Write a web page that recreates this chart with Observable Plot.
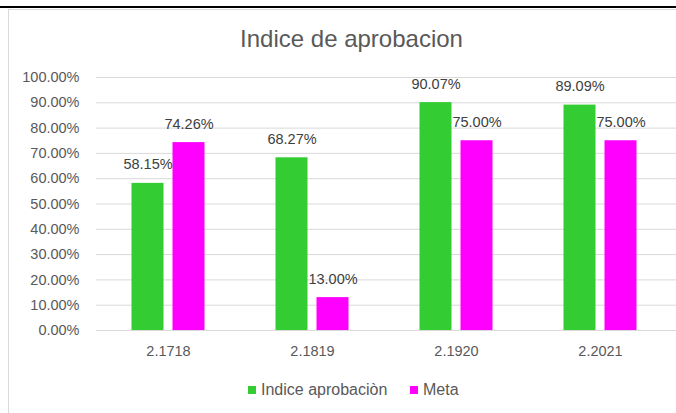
<!DOCTYPE html>
<html>
<head>
<meta charset="utf-8">
<script src="https://cdn.jsdelivr.net/npm/d3@7"></script>
<script src="https://cdn.jsdelivr.net/npm/@observablehq/plot@0.6"></script>
<style>
  html, body { margin: 0; padding: 0; background: #fff; }
  #wrap { position: relative; width: 676px; height: 413px; overflow: hidden; background: #fff; font-family: "Liberation Sans", Arial, sans-serif; }
  #topline { position: absolute; left: 0; top: 6px; width: 676px; height: 2px; background: #000; }
  #frameTop { position: absolute; left: 8px; top: 9px; width: 668px; height: 1px; background: #D9D9D9; }
  #frameLeft { position: absolute; left: 8px; top: 9px; width: 1px; height: 404px; background: #D9D9D9; }
  #title { position: absolute; left: 0; top: 26.7px; width: 676px; padding-left: 27px; box-sizing: border-box; text-align: center; font-size: 24px; line-height: 24px; color: #595959; white-space: nowrap; }
  #chart { position: absolute; left: 0; top: 60px; }
  .leg { position: absolute; top: 382.2px; font-size: 16px; line-height: 16px; color: #595959; white-space: nowrap; display: flex; align-items: center; }
  .sw { width: 8px; height: 8px; margin-right: 5px; display: inline-block; }
</style>
</head>
<body>
<div id="wrap">
  <div id="topline"></div>
  <div id="frameTop"></div>
  <div id="frameLeft"></div>
  <div id="title"></div>
  <div id="chart"></div>
  <div id="legend"></div>
</div>
<script>
const chartTitle = "Indice de aprobacion";
const periods = ["2.1718", "2.1819", "2.1920", "2.2021"];
const indiceValues = [58.15, 68.27, 90.07, 89.09];
const metaValues = [74.26, 13.00, 75.00, 75.00];
const seriesNames = ["Indice aprobaciòn", "Meta"];
const seriesColors = ["#33CC33", "#FF00FF"];
const yTicks = [0, 10, 20, 30, 40, 50, 60, 70, 80, 90, 100];

const indiceData = periods.map((p, i) => ({period: p, value: indiceValues[i]}));
const metaData = periods.map((p, i) => ({period: p, value: metaValues[i]}));
const fmt = v => v.toFixed(2) + "%";

document.getElementById("title").textContent = chartTitle;

const barOpts = {x: "period", y: "value", insetLeft: 56, insetRight: 56};
const labelOpts = {x: "period", y: "value", text: d => fmt(d.value), dy: -14, lineAnchor: "bottom", fill: "#404040", fontSize: 14.5};

const plot = Plot.plot({
  width: 676,
  height: 310,
  marginTop: 17,
  marginBottom: 40,
  marginLeft: 96,
  marginRight: 4,
  style: {background: "transparent", fontFamily: "'Liberation Sans', Arial, sans-serif", fontSize: "14.5px", color: "#595959"},
  x: {domain: periods, padding: 0},
  y: {domain: [0, 100]},
  marks: [
    Plot.ruleY(yTicks, {stroke: "#D9D9D9", strokeWidth: 1, insetRight: -4}),
    Plot.barY(indiceData, {...barOpts, fill: seriesColors[0], dx: -20.5}),
    Plot.barY(metaData, {...barOpts, fill: seriesColors[1], dx: 20.5}),
    Plot.text(indiceData, {...labelOpts, dx: -20.5}),
    Plot.text(metaData, {...labelOpts, dx: 20.5}),
    Plot.axisY(yTicks, {tickSize: 0, tickPadding: 17, tickFormat: fmt, label: null, fill: "#595959", fontSize: 14.5}),
    Plot.axisX({tickSize: 0, tickPadding: 15, label: null, fill: "#595959", fontSize: 14.5})
  ]
});
document.getElementById("chart").appendChild(plot);

const legend = document.getElementById("legend");
const legLefts = [248, 410];
seriesNames.forEach((name, i) => {
  const item = document.createElement("div");
  item.className = "leg";
  item.style.left = legLefts[i] + "px";
  const sw = document.createElement("span");
  sw.className = "sw";
  sw.style.background = seriesColors[i];
  const t = document.createElement("span");
  t.textContent = name;
  item.appendChild(sw);
  item.appendChild(t);
  legend.appendChild(item);
});
</script>
</body>
</html>
